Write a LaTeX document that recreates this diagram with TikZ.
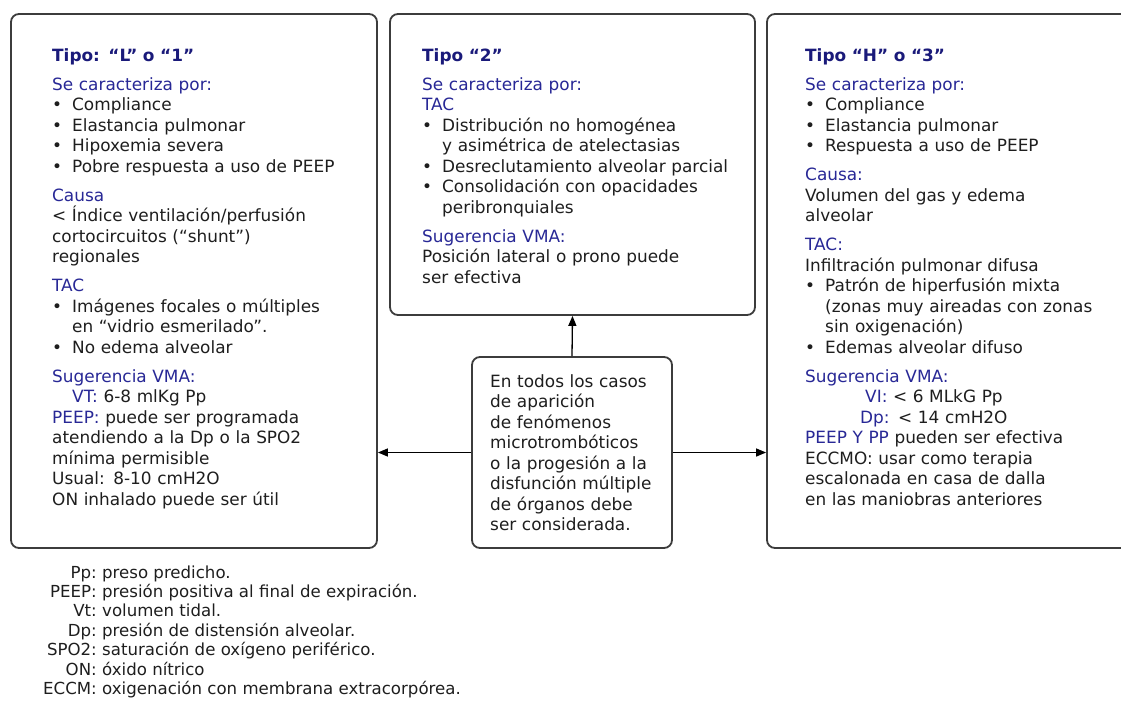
\documentclass[tikz,border=0pt]{standalone}
\usepackage{fontspec}
\setmainfont{DejaVu Sans}
\usepackage{xcolor}
\usetikzlibrary{positioning,arrows.meta}

\definecolor{tipoblue}{RGB}{26,26,122}
\definecolor{secblue}{RGB}{40,40,150}
\definecolor{framegray}{RGB}{60,60,60}
\definecolor{txtgray}{RGB}{30,30,30}

\newcommand{\bul}{\makebox[20pt][l]{•}}
\newcommand{\ind}{\hspace*{20pt}}
\newcommand{\sect}[1]{{\color{secblue}#1}}
\newcommand{\tipo}[1]{{\bfseries\color{tipoblue}#1}}

\begin{document}
\begin{tikzpicture}[x=1pt,y=-1pt,
panel/.style={draw=framegray,line width=1.8pt,rounded corners=8pt,fill=white,inner sep=0pt},
body/.style={anchor=base west,inner sep=0pt,align=left,text width=340pt,text=txtgray,
  font=\fontsize{16.9}{20.5}\selectfont},
legtext/.style={inner sep=0pt,text=txtgray,font=\fontsize{16.6}{19.4}\selectfont},
link/.style={draw=black,line width=1.3pt,-{Triangle[length=10pt,width=8pt]}}]
\useasboundingbox (0,0) rectangle (1121,707);

% the three types
\node (lbox) [panel,minimum width=366pt,minimum height=534pt] at (194,281) {};
\node (mbox) [panel,minimum width=365pt,minimum height=301pt] at (572.5,164.5) {};
\node (rbox) [panel,minimum width=366pt,minimum height=534pt] at (950,281) {};
\node (cbox) [panel,minimum width=200pt,minimum height=191pt] at (572,452.5) {};

\node (ltext) [body] at (52,61) {%
\tipo{Tipo: “L” o “1”}\\[8.5pt]
\sect{Se caracteriza por:}\\
\bul Compliance\\
\bul Elastancia pulmonar\\
\bul Hipoxemia severa\\
\bul Pobre respuesta a uso de PEEP\\[8.5pt]
\sect{Causa}\\
< Índice ventilación/perfusión\\
cortocircuitos (“shunt”)\\
regionales\\[8.5pt]
\sect{TAC}\\
\bul Imágenes focales o múltiples\\
\ind en “vidrio esmerilado”.\\
\bul No edema alveolar\\[8.5pt]
\sect{Sugerencia VMA:}\\
\hspace*{20pt}\sect{VT:} 6-8 mlKg Pp\\
\sect{PEEP:} puede ser programada\\
atendiendo a la Dp o la SPO2\\
mínima permisible\\
Usual: 8-10 cmH2O\\
ON inhalado puede ser útil};

\node (mtext) [body] at (422,61) {%
\tipo{Tipo “2”}\\[8.5pt]
\sect{Se caracteriza por:}\\
\sect{TAC}\\
\bul Distribución no homogénea\\
\ind y asimétrica de atelectasias\\
\bul Desreclutamiento alveolar parcial\\
\bul Consolidación con opacidades\\
\ind peribronquiales\\[8.5pt]
\sect{Sugerencia VMA:}\\
Posición lateral o prono puede\\
ser efectiva};

\node (rtext) [body] at (805,61) {%
\tipo{Tipo “H” o “3”}\\[8.5pt]
\sect{Se caracteriza por:}\\
\bul Compliance\\
\bul Elastancia pulmonar\\
\bul Respuesta a uso de PEEP\\[8.5pt]
\sect{Causa:}\\
Volumen del gas y edema\\
alveolar\\[8.5pt]
\sect{TAC:}\\
Infiltración pulmonar difusa\\
\bul Patrón de hiperfusión mixta\\
\ind (zonas muy aireadas con zonas\\
\ind sin oxigenación)\\
\bul Edemas alveolar difuso\\[8.5pt]
\sect{Sugerencia VMA:}\\
\hspace*{60pt}\sect{VI:} < 6 MLkG Pp\\
\hspace*{55pt}\sect{Dp:} < 14 cmH2O\\
\sect{PEEP Y PP} pueden ser efectiva\\
ECCMO: usar como terapia\\
escalonada en casa de dalla\\
en las maniobras anteriores};

\node (ctext) [body,text width=180pt] at (490,387) {%
En todos los casos\\
de aparición\\
de fenómenos\\
microtrombóticos\\
o la progesión a la\\
disfunción múltiple\\
de órganos debe\\
ser considerada.};

% connectors
\draw [link] (cbox.north) -- (mbox.south);
\draw [link] (cbox.west) -- (cbox.west -| lbox.east);
\draw [link] (cbox.east) -- (cbox.east -| rbox.west);

% abbreviations
\foreach \ab/\txt [count=\i] in {Pp/preso predicho.,
  PEEP/presión positiva al final de expiración.,
  Vt/volumen tidal.,
  Dp/presión de distensión alveolar.,
  SPO2/saturación de oxígeno periférico.,
  ON/óxido nítrico,
  ECCM/oxigenación con membrana extracorpórea.}{
  \node (lab-\i) [legtext,anchor=base east] at (97,{578+(\i-1)*19.4}) {\ab:};
  \node (def-\i) [legtext,anchor=base west] at ([xshift=5pt]lab-\i.base east) {\txt};
}
\end{tikzpicture}
\end{document}
